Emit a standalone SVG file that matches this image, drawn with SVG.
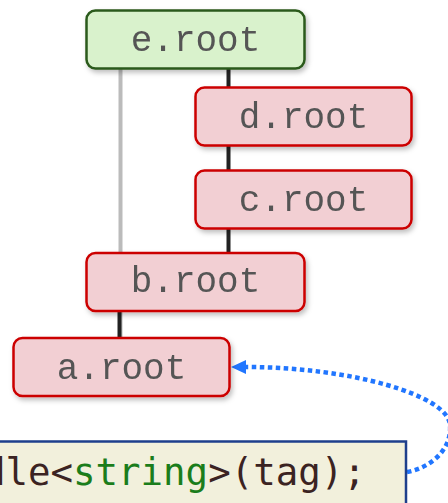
<svg xmlns="http://www.w3.org/2000/svg" width="448" height="503" viewBox="0 0 448 503">
<defs>
<filter id="sh" x="-10%" y="-20%" width="130%" height="150%">
<feDropShadow dx="2" dy="3" stdDeviation="2.5" flood-color="#000" flood-opacity="0.25"/>
</filter>
<marker id="ah" markerUnits="userSpaceOnUse" markerWidth="16" markerHeight="14" refX="0" refY="7" orient="auto" overflow="visible">
<path d="M0,0 L15,7 L0,14 z" fill="#2176ff"/>
</marker>
<style>
.green rect{fill:#d9f2cc;stroke:#2b5a1a;stroke-width:2.5}
.red rect{fill:#f2cfd3;stroke:#cc0000;stroke-width:2.5}
.node text{font-family:"Liberation Mono",monospace;font-size:36px;fill:#555;text-anchor:middle}
.code{font-family:"DejaVu Sans Mono",monospace;font-size:37.4px;fill:#3b2322}
</style>
</defs>
<g id="connectors">
<line x1="120.5" y1="69" x2="120.5" y2="338" stroke="#bbbbbb" stroke-width="4"/>
<line x1="228.5" y1="69" x2="228.5" y2="252" stroke="#222" stroke-width="4"/>
<line x1="119.5" y1="311" x2="119.5" y2="338" stroke="#222" stroke-width="4"/>
<path d="M407,472 C430,468 452,450 450,425 C448,395 350,367 246,367" fill="none" stroke="#2176ff" stroke-width="4.5" stroke-dasharray="4.5 3.5" marker-end="url(#ah)"/>
</g>
<g id="e" class="node green" filter="url(#sh)">
<rect x="86.5" y="10.5" width="218" height="58" rx="9"/>
<text x="195.5" y="50.5">e.root</text>
</g>
<g id="d" class="node red" filter="url(#sh)">
<rect x="195.5" y="87.5" width="216" height="58" rx="9"/>
<text x="303.5" y="127.5">d.root</text>
</g>
<g id="c" class="node red" filter="url(#sh)">
<rect x="195.5" y="170.5" width="216" height="58" rx="9"/>
<text x="303.5" y="210.5">c.root</text>
</g>
<g id="b" class="node red" filter="url(#sh)">
<rect x="86.5" y="253" width="218" height="58" rx="9"/>
<text x="195.5" y="292">b.root</text>
</g>
<g id="a" class="node red" filter="url(#sh)">
<rect x="13.5" y="338" width="216" height="58" rx="9"/>
<text x="121.5" y="378.5">a.root</text>
</g>
<g id="code">
<rect x="-10" y="441.5" width="416" height="80" fill="#f2f0dc" stroke="#1e3f8c" stroke-width="2.5"/>
<text class="code" x="-17" y="485">dle&lt;<tspan fill="#1b7d1b">string</tspan>&gt;(tag);</text>
</g>
</svg>
